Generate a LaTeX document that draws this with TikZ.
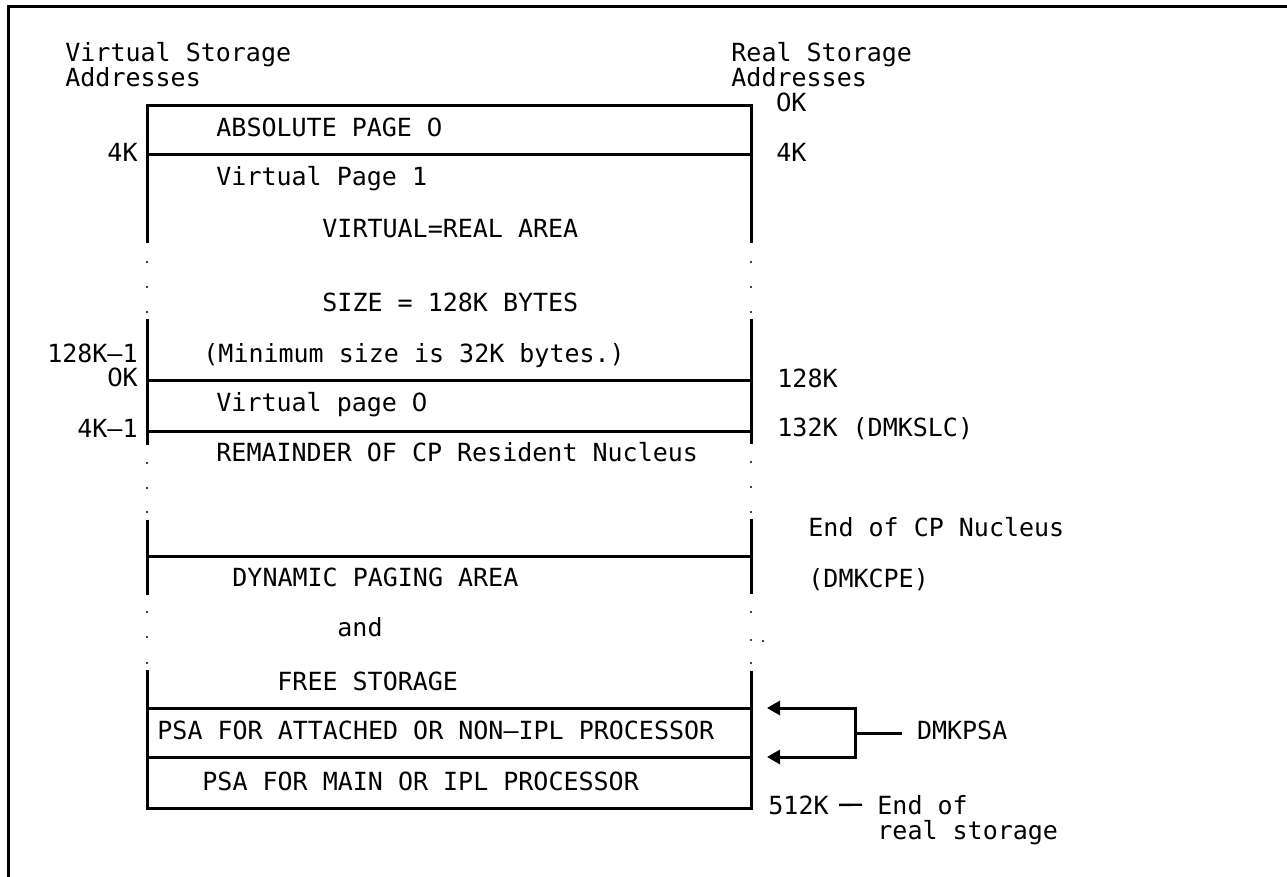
\documentclass[tikz,border=0pt]{standalone}
\usepackage{fontspec}
\setmonofont{DejaVu Sans Mono}
\newfontfamily\plainzerofont{DejaVu Sans}
\usetikzlibrary{arrows.meta}
% an unslashed zero that keeps the monospaced cell width
\newcommand\zerodigit{\makebox[0.602em][c]{\plainzerofont 0}}
\begin{document}
\begin{tikzpicture}[x=0.5pt,y=-0.5pt,
  font=\ttfamily\fontsize{12.5}{15}\selectfont,
  lbl/.style={anchor=base west,inner sep=0pt},
  rlbl/.style={anchor=base east,inner sep=0pt},
  wall/.style={line width=1.5pt},
  framerule/.style={line width=1.5pt},
  pointer/.style={line width=1.5pt,-{Triangle[length=6.5pt,width=7pt]}},
  dotmark/.style={fill=black}]
\useasboundingbox (0,0) rectangle (1287,877);

% page frame (top and left rules only)
\draw[framerule] (1287,6.5) -- (8.5,6.5) -- (8.5,877);

% column headings
\node[lbl] (vsa1) at (65,62) {Virtual Storage};
\node[lbl] (vsa2) at (65,87) {Addresses};
\node[lbl] (rsa1) at (731,62) {Real Storage};
\node[lbl] (rsa2) at (731,87) {Addresses};

% storage column: outline pieces
\draw[wall] (147,243) -- (147,106) -- (751,106) -- (751,243);
\draw[wall] (147,319) -- (147,445);
\draw[wall] (751,319) -- (751,444);
\draw[wall] (147,520) -- (147,595);
\draw[wall] (751,519) -- (751,594);
\draw[wall] (147,670) -- (147,808) -- (751,808) -- (751,671);

% storage column: boundaries
\foreach \yy in {155,381,432,557,708,757}
  \draw[wall] (147,\yy) -- (751,\yy);

% dotted continuation marks
\foreach \yy in {262,287,312,463,488,512,612,637,663}
  \fill[dotmark] (147,\yy) circle (0.6pt);
\foreach \yy in {262,287,312,462,487,512,612,640,663}
  \fill[dotmark] (751,\yy) circle (0.6pt);
\fill[dotmark] (763,641) circle (0.6pt);

% area texts
\node[lbl] (abs)  at (216,137) {ABSOLUTE PAGE \zerodigit};
\node[lbl] (vp1)  at (216,186) {Virtual Page 1};
\node[lbl] (vr)   at (322,238) {VIRTUAL=REAL AREA};
\node[lbl] (size) at (322,312) {SIZE = 128K BYTES};
\node[lbl] (min)  at (203,363) {(Minimum size is 32K bytes.)};
\node[lbl] (vp0)  at (216,412) {Virtual page \zerodigit};
\node[lbl] (rem)  at (216,462) {REMAINDER OF CP Resident Nucleus};
\node[lbl] (dpa)  at (232,587) {DYNAMIC PAGING AREA};
\node[lbl] (and)  at (337,637) {and};
\node[lbl] (free) at (277,690) {FREE STORAGE};
\node[lbl] (psa1) at (157,740) {PSA FOR ATTACHED OR NON–IPL PROCESSOR};
\node[lbl] (psa2) at (202,790) {PSA FOR MAIN OR IPL PROCESSOR};

% virtual addresses (left)
\node[rlbl] (l4k)   at (138,162) {4K};
\node[rlbl] (l128)  at (138,363) {128K–1};
\node[rlbl] (l0k)   at (138,387) {\zerodigit K};
\node[rlbl] (l4km)  at (138,438) {4K–1};

% real addresses (right)
\node[lbl] (r0k)  at (776,112) {\zerodigit K};
\node[lbl] (r4k)  at (776,162) {4K};
\node[lbl] (r128) at (777,388) {128K};
\node[lbl] (r132) at (777,437) {132K (DMKSLC)};
\node[lbl] (ecp)  at (808,537) {End of CP Nucleus};
\node[lbl] (cpe)  at (808,588) {(DMKCPE)};

% DMKPSA pointers
\node[lbl,outer xsep=7.5pt] (dmkpsa) at (902,739) {DMKPSA};
\coordinate (junc) at (855,733);
\coordinate (tipa) at (767,708);
\coordinate (tipb) at (767,757);
\draw[wall] (dmkpsa.west |- junc) -- (junc);
\draw[pointer] (junc) |- (tipa);
\draw[pointer] (junc) |- (tipb);

% end of real storage
\node[lbl] (r512)  at (768,814) {512K};
\node[lbl] (endof) at (877,814) {End of};
\node[lbl] (rstor) at (877,839) {real storage};
\draw[line width=1.2pt,shorten <=5pt,shorten >=7.5pt] (r512.east) -- (endof.west);
\end{tikzpicture}
\end{document}
